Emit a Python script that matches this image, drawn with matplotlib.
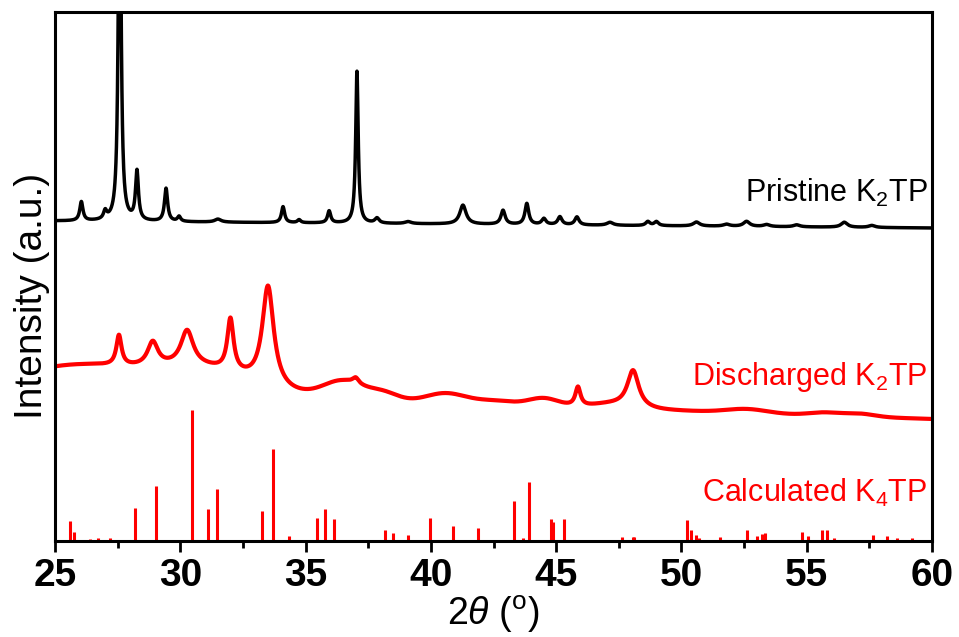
import numpy as np
import matplotlib
matplotlib.use("Agg")
import matplotlib.pyplot as plt

plt.rcParams['font.family'] = ['Liberation Sans', 'DejaVu Sans']
plt.rcParams['mathtext.fontset'] = 'custom'
plt.rcParams['mathtext.rm'] = 'Liberation Sans'
plt.rcParams['mathtext.it'] = 'Liberation Sans:italic'

# Pristine K2TP: reflections (2theta, height, FWHM)
pristine_pos = [26.05, 27.0, 27.58, 28.27, 29.43, 29.95, 31.5, 34.1, 34.74, 35.94,
                37.05, 37.85, 39.09, 41.28, 42.88, 43.83, 44.51, 45.15, 45.83, 47.15,
                48.66, 49.0, 50.6, 51.8, 52.6, 53.4, 54.6, 56.5, 57.6]
pristine_h = [19, 8, 420, 49, 33, 5, 3, 16, 3, 12,
              152, 5, 2, 19, 14, 21, 6, 8, 8, 3,
              4, 4, 4, 2, 5, 2, 2, 5, 2]
pristine_w = [0.15, 0.15, 0.12, 0.14, 0.15, 0.15, 0.3, 0.15, 0.15, 0.15,
              0.12, 0.2, 0.3, 0.3, 0.2, 0.18, 0.2, 0.2, 0.2, 0.3,
              0.2, 0.2, 0.3, 0.3, 0.3, 0.3, 0.3, 0.3, 0.3]
pristine_offset = [320, 313]   # background at 25 and 60 deg

# Discharged K2TP: crystalline peaks
dis_pos = [27.55, 28.9, 30.27, 32.0, 33.5, 37.0, 45.87, 48.07]
dis_h = [30, 24, 35, 52, 100, 6, 19, 37]
dis_w = [0.25, 0.5, 0.6, 0.3, 0.55, 0.3, 0.25, 0.55]
# broad amorphous humps (centre, height, sigma)
hump_pos = [26.0, 31.0, 36.5, 38.1, 40.6, 42.6, 44.5, 47.2, 52.6, 55.7, 57.1]
hump_h = [26, 24, 18, 8, 10, 4, 8, 4, 4, 3, 3]
hump_s = [2.5, 2.0, 0.8, 0.6, 0.8, 0.8, 0.6, 0.8, 0.8, 0.6, 0.6]
dis_offset = [150, 122]

# Calculated K4TP stick pattern
calc_pos = [25.6, 25.76, 26.4, 26.7, 27.2, 28.2, 29.03, 30.47, 31.1, 31.46,
            33.26, 33.7, 34.33, 35.45, 35.77, 36.13, 38.17, 38.49, 39.09, 39.97,
            40.88, 41.88, 43.32, 43.67, 43.92, 44.8, 44.87, 45.31, 46.27, 47.63,
            48.07, 48.12, 50.22, 50.38, 50.58, 50.7, 51.54, 52.6, 53.0, 53.2,
            53.33, 54.8, 55.05, 55.6, 55.8, 56.1, 57.65, 58.2, 58.6, 59.2]
calc_h = [20, 9, 2, 3, 3, 33, 55, 131, 32, 52,
          30, 92, 5, 23, 32, 22, 11, 8, 6, 23,
          15, 13, 40, 3, 59, 22, 19, 22, 1, 4,
          4, 4, 21, 11, 6, 3, 4, 11, 5, 7,
          8, 9, 5, 11, 11, 3, 6, 5, 3, 3]


def lorentz(x, pos, h, w):
    y = np.zeros_like(x)
    for p, a, f in zip(pos, h, w):
        y += a / (1 + ((x - p) / (f / 2)) ** 2)
    return y


def gauss(x, pos, h, s):
    y = np.zeros_like(x)
    for p, a, sg in zip(pos, h, s):
        y += a * np.exp(-(x - p) ** 2 / (2 * sg ** 2))
    return y


two_theta = np.arange(25, 60.001, 0.01)
line_bg = lambda off: off[0] + (off[1] - off[0]) * (two_theta - 25) / 35

pristine = line_bg(pristine_offset) + lorentz(two_theta, pristine_pos, pristine_h, pristine_w)
discharged = (line_bg(dis_offset) + gauss(two_theta, hump_pos, hump_h, hump_s)
              + lorentz(two_theta, dis_pos, dis_h, dis_w))

fig = plt.figure(figsize=(9.59, 6.37), dpi=100)
ax = fig.add_axes([0.0574, 0.1507, 0.9144, 0.8305])

ax.plot(two_theta, pristine, color='black', lw=2.5)
ax.plot(two_theta, discharged, color='#ff0000', lw=3.0)
ax.vlines(calc_pos, 0, calc_h, color='#ff0000', lw=2.2)

ax.text(0.995, 0.658, 'Pristine K$_2$TP', transform=ax.transAxes,
        ha='right', va='center', fontsize=22, color='black')
ax.text(0.995, 0.310, 'Discharged K$_2$TP', transform=ax.transAxes,
        ha='right', va='center', fontsize=22, color='#ff0000')
ax.text(0.995, 0.0907, 'Calculated K$_4$TP', transform=ax.transAxes,
        ha='right', va='center', fontsize=22, color='#ff0000')

ax.set_xlim(25, 60)
ax.set_ylim(0, 529)
ax.set_xticks(np.arange(25, 61, 5))
ax.set_xticks(np.arange(27.5, 60, 5), minor=True)
ax.set_yticks([])
ax.tick_params(axis='x', which='major', direction='out', length=8, width=2,
               labelsize=28, pad=4)
ax.tick_params(axis='x', which='minor', direction='out', length=5, width=2)
for lbl in ax.get_xticklabels():
    lbl.set_fontweight('bold')
for sp in ax.spines.values():
    sp.set_linewidth(2.2)

ax.set_xlabel(r'2$\it{\theta}$ ($^{\rm o}$)', fontsize=27, labelpad=0)
ax.set_ylabel('Intensity (a.u.)', fontsize=28)
ax.yaxis.set_label_coords(-0.006, 0.463)

fig.savefig('out.png', dpi=100)
